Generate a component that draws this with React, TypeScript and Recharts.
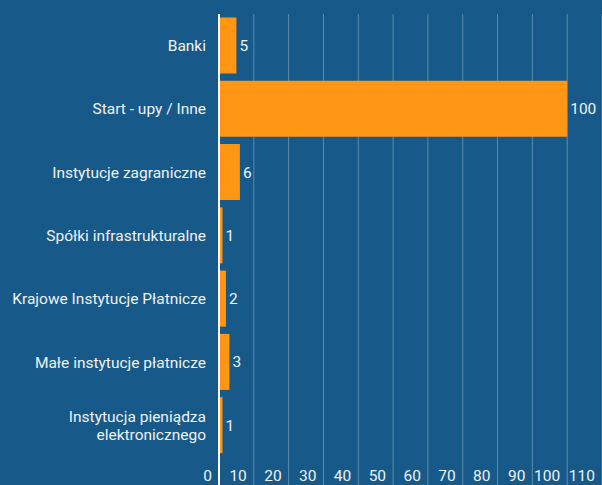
import { Bar, BarChart, CartesianGrid, LabelList, Text, XAxis, YAxis } from 'recharts'

const categories = [
  'Banki',
  'Start - upy / Inne',
  'Instytucje zagraniczne',
  'Spółki infrastrukturalne',
  'Krajowe Instytucje Płatnicze',
  'Małe instytucje płatnicze',
  'Instytucja pieniądza elektronicznego',
]
const counts = [5, 100, 6, 1, 2, 3, 1]
const xTicks = [0, 10, 20, 30, 40, 50, 60, 70, 80, 90, 100, 110]

const data = categories.map((name, i) => ({ name, value: counts[i] }))

const BG = '#175a89'
const ORANGE = '#ff9614'
const TEXT = '#eef2f5'
const FONT = 'Roboto, sans-serif'

const YTick = ({ x, y, payload }: any) => (
  <Text
    x={x}
    y={y}
    width={205}
    textAnchor="end"
    verticalAnchor="middle"
    lineHeight="1.12em"
    fill={TEXT}
    fontSize={15.5}
    fontFamily={FONT}
  >
    {payload.value}
  </Text>
)

// grid lines run down past the plot to the bottom edge, labels sit left of each line
const XTick = ({ x, y, payload }: any) => {
  const isZero = payload.value === 0
  return (
    <g>
      <line
        x1={x}
        x2={x}
        y1={y - 8}
        y2={y + 30}
        stroke={isZero ? '#ffffff' : 'rgba(255,255,255,0.3)'}
        strokeWidth={isZero ? 2 : 1}
      />
      <text x={x - 7} y={y + 16} textAnchor="end" fill={TEXT} fontSize={15.5} fontFamily={FONT}>
        {payload.value}
      </text>
    </g>
  )
}

export default function App() {
  return (
    <div style={{ position: 'absolute', left: 0, top: 0, width: 602, height: 485, background: BG, overflow: 'hidden' }}>
      <BarChart
        width={602}
        height={485}
        data={data}
        layout="vertical"
        margin={{ top: 14, right: 0, bottom: 0, left: 0 }}
        barCategoryGap="5.5%"
      >
        <CartesianGrid horizontal={false} stroke="rgba(255,255,255,0.3)" />
        <XAxis
          type="number"
          domain={[0, 110]}
          ticks={xTicks}
          height={28}
          axisLine={false}
          tickLine={false}
          tick={<XTick />}
          interval={0}
        />
        <YAxis
          type="category"
          dataKey="name"
          width={219}
          axisLine={{ stroke: '#ffffff', strokeWidth: 2 }}
          tickLine={false}
          tickSize={0}
          tickMargin={13}
          tick={<YTick />}
          interval={0}
        />
        <Bar dataKey="value" fill={ORANGE} isAnimationActive={false}>
          <LabelList
            dataKey="value"
            position="right"
            offset={3}
            fill={TEXT}
            fontSize={15.5}
            fontFamily={FONT}
          />
        </Bar>
      </BarChart>
    </div>
  )
}
